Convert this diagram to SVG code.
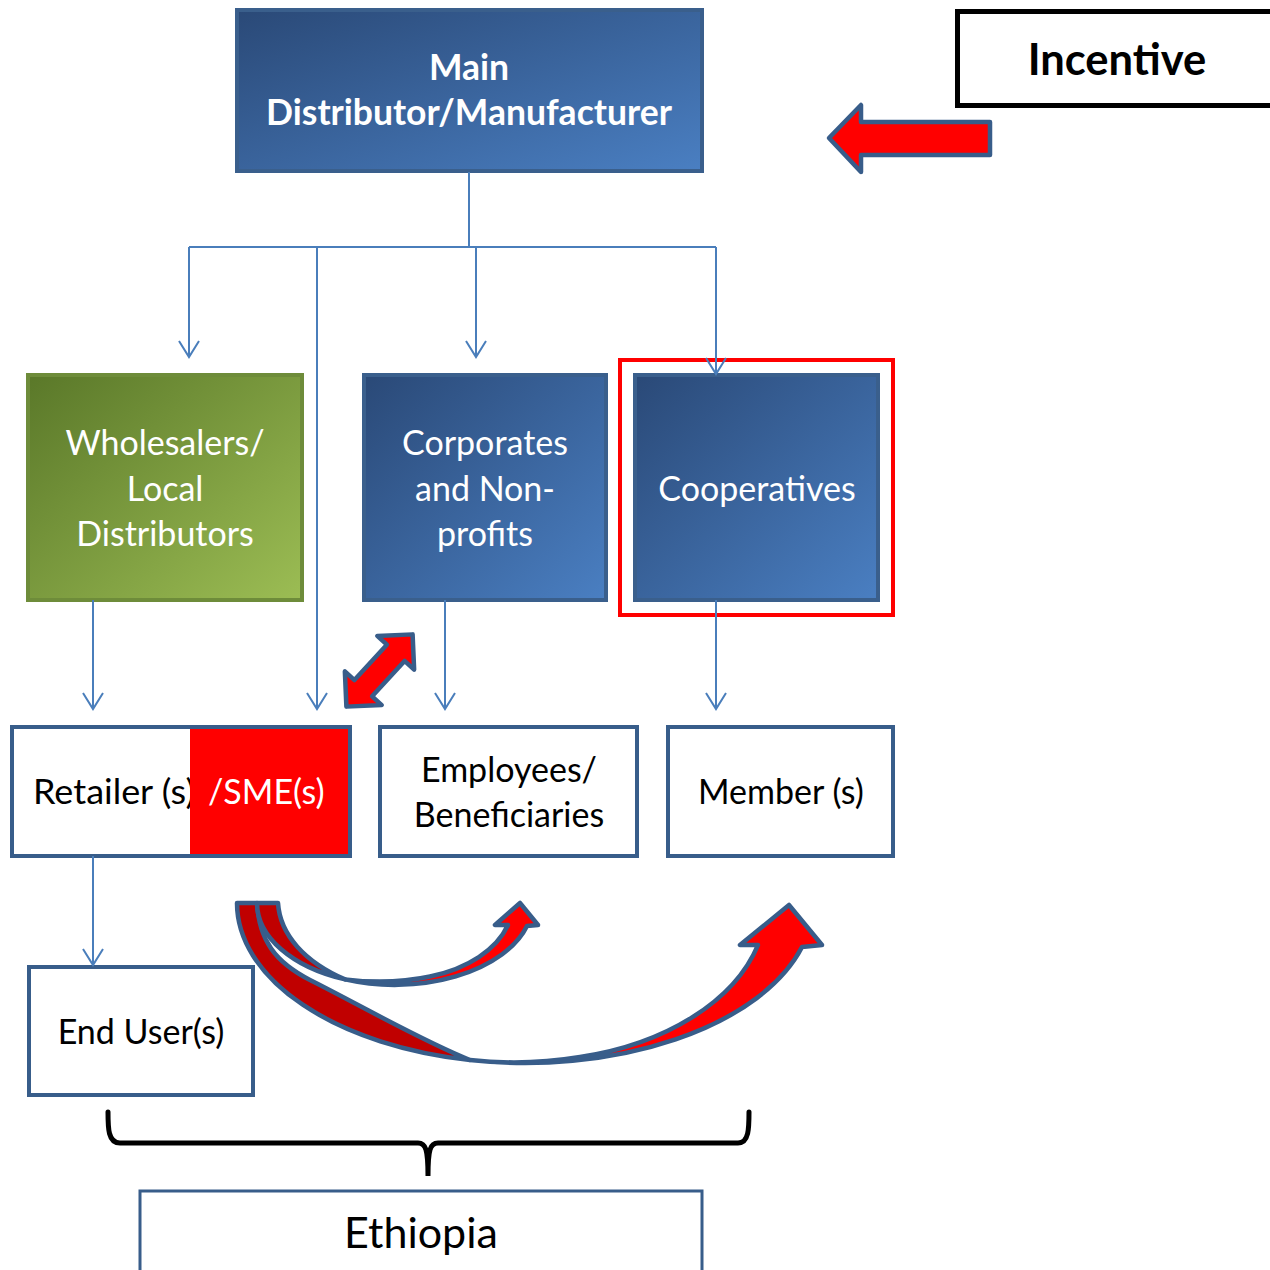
<svg xmlns="http://www.w3.org/2000/svg" width="1270" height="1270" viewBox="0 0 1270 1270">
<defs>
<linearGradient id="blueG" x1="0" y1="0" x2="1" y2="1">
<stop offset="0" stop-color="#2a4977"/>
<stop offset="1" stop-color="#4a7fc2"/>
</linearGradient>
<linearGradient id="greenG" x1="0" y1="0" x2="1" y2="1">
<stop offset="0" stop-color="#5a7829"/>
<stop offset="1" stop-color="#9cbd54"/>
</linearGradient>
<marker id="arr" markerWidth="22" markerHeight="22" refX="19" refY="11" orient="auto" markerUnits="userSpaceOnUse">
<path d="M3,1 L19,11 L3,21" fill="none" stroke="#4a7ebb" stroke-width="2"/>
</marker>
<style>
.bluebox{fill:url(#blueG);stroke:#3a5f8c;stroke-width:4}
.greenbox{fill:url(#greenG);stroke:#6e8c3a;stroke-width:4}
.whitebox{fill:#ffffff;stroke:#385d8a;stroke-width:4}
.wt{font-family:Lato,"Open Sans",sans-serif;font-size:34px;fill:#ffffff;text-anchor:middle}
.bt{font-family:Lato,"Open Sans",sans-serif;font-size:34px;fill:#000000;text-anchor:middle}
.bold{font-weight:bold}
.conn{fill:none;stroke:#4a7ebb;stroke-width:2}
.fat{stroke:#385d8a;stroke-width:4.5;stroke-linejoin:round}
</style>
</defs>
<rect width="1270" height="1270" fill="#ffffff"/>

<g id="main">
<rect class="bluebox" x="237" y="10" width="465" height="161"/>
<text class="wt bold" x="469" y="80" style="font-size:35.5px">Main</text>
<text class="wt bold" x="469" y="125" style="font-size:35.5px">Distributor/Manufacturer</text>
</g>

<g id="incentive">
<rect x="957.5" y="11.5" width="330" height="94" fill="#ffffff" stroke="#000000" stroke-width="5"/>
<text class="bt bold" x="1117" y="75" style="font-size:43.5px">Incentive</text>
</g>

<g id="incentive-arrow">
<polygon class="fat" fill="#ff0000" points="829,138 861,105 861,122 990,122 990,155 861,155 861,172"/>
</g>

<g id="wholesalers">
<rect class="greenbox" x="28" y="375" width="274" height="225"/>
<text class="wt" x="165" y="455">Wholesalers/</text>
<text class="wt" x="165" y="501">Local</text>
<text class="wt" x="165" y="546">Distributors</text>
</g>

<g id="corporates">
<rect class="bluebox" x="364" y="375" width="242" height="225"/>
<text class="wt" x="485" y="455">Corporates</text>
<text class="wt" x="485" y="501">and Non-</text>
<text class="wt" x="485" y="546">profits</text>
</g>

<g id="cooperatives">
<rect x="620" y="360" width="273" height="255" fill="none" stroke="#ff0000" stroke-width="4"/>
<rect class="bluebox" x="635" y="375" width="243" height="225"/>
<text class="wt" x="757" y="501">Cooperatives</text>
</g>

<g id="retailer">
<rect class="whitebox" x="12" y="727" width="338" height="129"/>
<text class="bt" x="33" y="804" style="text-anchor:start" textLength="162" lengthAdjust="spacingAndGlyphs">Retailer (s)</text>
<rect x="190" y="729" width="158" height="125" fill="#ff0000"/>
<text class="wt" x="208" y="804" style="text-anchor:start">/SME(s)</text>
</g>

<g id="employees">
<rect class="whitebox" x="380" y="727" width="257" height="129"/>
<text class="bt" x="509" y="782">Employees/</text>
<text class="bt" x="509" y="827">Beneficiaries</text>
</g>

<g id="members">
<rect class="whitebox" x="668" y="727" width="225" height="129"/>
<text class="bt" x="781" y="804">Member (s)</text>
</g>

<g id="enduser">
<rect class="whitebox" x="29" y="967" width="224" height="128"/>
<text class="bt" x="141" y="1044">End User(s)</text>
</g>

<g id="ethiopia">
<rect x="140" y="1191" width="562" height="100" fill="#ffffff" stroke="#385d8a" stroke-width="3"/>
<text class="bt" x="421" y="1248" style="font-size:43px">Ethiopia</text>
</g>

<g id="brace">
<path d="M108,1112 C108,1128 108,1143 120,1143 L418,1143 C426,1143 428,1150 428,1176 C428,1150 430,1143 438,1143 L738,1143 C749,1143 749,1128 749,1112" fill="none" stroke="#000000" stroke-width="5" stroke-linecap="round"/>
</g>

<g id="connectors">
<path class="conn" d="M469,172 L469,247"/>
<path class="conn" d="M189,247 L716,247"/>
<path class="conn" d="M189,247 L189,357" marker-end="url(#arr)"/>
<path class="conn" d="M317,247 L317,709" marker-end="url(#arr)"/>
<path class="conn" d="M476,247 L476,357" marker-end="url(#arr)"/>
<path class="conn" d="M716,247 L716,374" marker-end="url(#arr)"/>
<path class="conn" d="M93,600 L93,709" marker-end="url(#arr)"/>
<path class="conn" d="M445,600 L445,709" marker-end="url(#arr)"/>
<path class="conn" d="M716,600 L716,709" marker-end="url(#arr)"/>
<path class="conn" d="M93,856 L93,965" marker-end="url(#arr)"/>
</g>

<g id="double-arrow">
<polygon class="fat" fill="#ff0000" transform="translate(379.5,670.5) rotate(-47.5)" points="-49,0 -24,-25 -24,-12 24,-12 24,-25 49,0 24,25 24,12 -24,12 -24,25"/>
</g>

<g id="curved-arrows">
<path class="fat" fill="#c00000" d="M237,903 L257,903 C259,940 275,962 310,980 C360,1005 420,1040 470,1060 A288 160 0 0 1 237,903 Z"/>
<path class="fat" fill="#ff0000" d="M470,1060 A288 160 0 0 0 802,947 L822,945 L789,905 L740,945 L758,945 A240 158 0 0 1 580,1057 Q525,1066 470,1060 Z"/>
<path class="fat" fill="#c00000" d="M257,903 L278,903 C280,935 305,962 345,979.4 A138 82 0 0 1 257,903 Z"/>
<path class="fat" fill="#ff0000" d="M345,979.4 A138 82 0 0 0 527,926 L538,925 L520,903 L495,925 L508,925 A118 77 0 0 1 430,976.5 Q390,985 345,979.4 Z"/>
</g>
</svg>
